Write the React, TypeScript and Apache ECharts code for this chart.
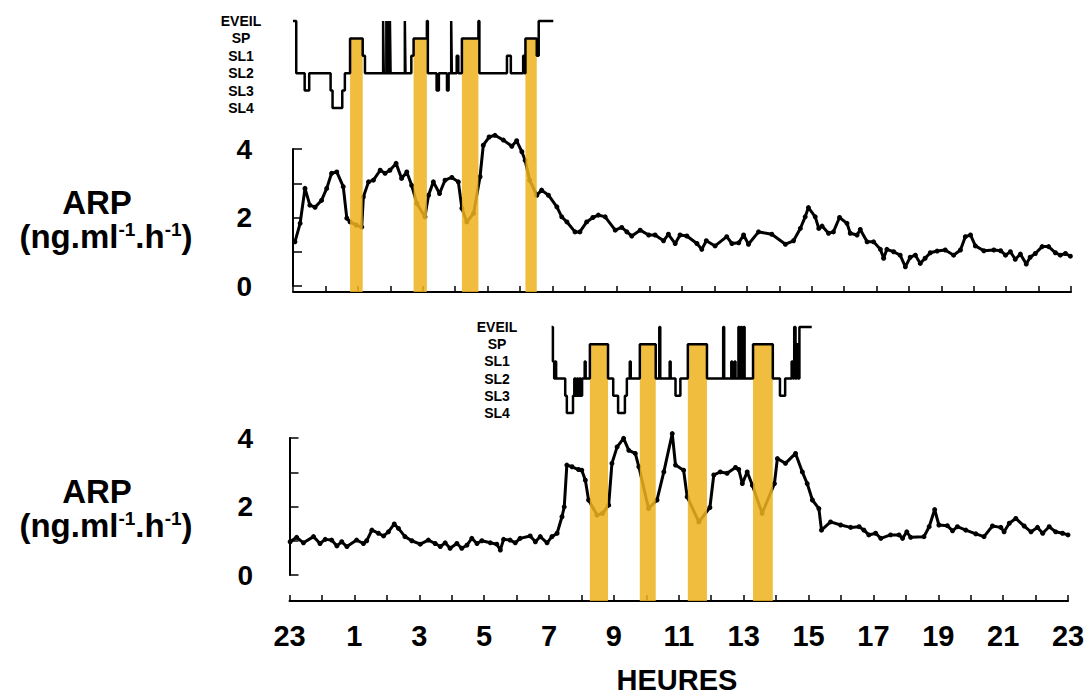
import React, { useEffect, useRef } from "react";
import * as echarts from "echarts";

const stageNames = ["EVEIL", "SP", "SL1", "SL2", "SL3", "SL4"];

const topHours = [0.06, 0.22, 0.37, 0.52, 0.68, 0.88, 1.04, 1.19, 1.35, 1.55, 1.66, 1.76, 1.95, 2.12, 2.17, 2.33, 2.48, 2.69, 2.84, 2.99, 3.18, 3.35, 3.51, 3.66, 3.82, 4.07, 4.18, 4.33, 4.52, 4.69, 4.9, 5.1, 5.21, 5.36, 5.57, 5.77, 5.87, 6.05, 6.23, 6.49, 6.75, 6.9, 7.06, 7.16, 7.3, 7.52, 7.67, 7.88, 8.14, 8.29, 8.45, 8.7, 8.85, 9.06, 9.25, 9.42, 9.63, 9.94, 10.14, 10.3, 10.45, 10.71, 10.97, 11.17, 11.43, 11.58, 11.79, 11.94, 12.15, 12.46, 12.61, 12.75, 13.02, 13.38, 13.54, 13.75, 13.9, 14.05, 14.36, 14.77, 15.19, 15.44, 15.65, 15.8, 15.9, 16.11, 16.22, 16.32, 16.52, 16.67, 16.86, 17.09, 17.19, 17.4, 17.5, 17.71, 17.91, 18.12, 18.22, 18.32, 18.53, 18.73, 18.89, 19.04, 19.2, 19.35, 19.5, 19.66, 19.87, 20.12, 20.38, 20.59, 20.74, 20.9, 21.05, 21.31, 21.62, 21.83, 21.98, 22.13, 22.28, 22.44, 22.62, 22.74, 22.9, 23.11, 23.31, 23.52, 23.67, 23.83, 23.98];
const topArp = [1.29, 1.83, 2.85, 2.36, 2.3, 2.5, 2.85, 3.29, 3.33, 2.9, 1.98, 1.87, 1.78, 1.72, 2.6, 3.04, 3.09, 3.38, 3.29, 3.38, 3.58, 3.14, 3.33, 2.94, 2.41, 2.02, 2.65, 3.04, 2.7, 3.09, 3.17, 3.04, 2.27, 1.87, 2.12, 3.19, 4.11, 4.35, 4.4, 4.26, 4.08, 4.24, 3.92, 3.67, 3.09, 2.65, 2.8, 2.65, 2.31, 2.02, 1.87, 1.58, 1.58, 1.87, 2.0, 2.07, 2.02, 1.63, 1.71, 1.58, 1.46, 1.63, 1.49, 1.49, 1.32, 1.51, 1.24, 1.49, 1.46, 1.24, 1.07, 1.32, 1.17, 1.44, 1.24, 1.26, 1.49, 1.22, 1.58, 1.51, 1.22, 1.32, 1.68, 2.02, 2.29, 2.02, 1.68, 1.75, 1.54, 1.58, 2.0, 1.83, 1.54, 1.49, 1.65, 1.29, 1.29, 1.07, 0.81, 1.07, 1.0, 0.9, 0.56, 0.84, 0.9, 0.66, 0.81, 0.97, 1.02, 1.05, 0.9, 1.05, 1.44, 1.49, 1.17, 1.03, 1.05, 1.03, 0.9, 1.0, 0.78, 0.93, 0.64, 0.84, 0.95, 1.15, 1.15, 0.97, 0.9, 0.95, 0.87];

const bottomHours = [0.02, 0.22, 0.43, 0.74, 0.94, 1.1, 1.3, 1.46, 1.61, 1.77, 2.07, 2.28, 2.38, 2.54, 2.74, 2.9, 3.05, 3.23, 3.36, 3.56, 3.77, 4.03, 4.28, 4.49, 4.65, 4.8, 4.95, 5.16, 5.31, 5.47, 5.62, 5.78, 5.93, 6.19, 6.39, 6.5, 6.6, 6.8, 6.96, 7.11, 7.42, 7.58, 7.73, 7.94, 8.09, 8.25, 8.4, 8.47, 8.55, 8.71, 8.91, 9.01, 9.12, 9.22, 9.48, 9.65, 9.84, 9.94, 10.1, 10.3, 10.46, 10.66, 10.77, 11.07, 11.33, 11.54, 11.8, 11.9, 12.15, 12.26, 12.62, 12.96, 13.08, 13.28, 13.49, 13.75, 13.85, 13.96, 14.11, 14.27, 14.57, 14.95, 15.04, 15.29, 15.6, 15.81, 15.96, 16.12, 16.32, 16.4, 16.68, 16.99, 17.3, 17.56, 17.71, 17.86, 18.07, 18.23, 18.53, 18.79, 18.9, 19.03, 19.15, 19.56, 19.72, 19.89, 20.02, 20.28, 20.44, 20.59, 20.85, 21.16, 21.41, 21.67, 21.93, 22.03, 22.19, 22.39, 22.65, 22.86, 23.06, 23.22, 23.42, 23.62, 23.83, 24.0];
const bottomArp = [0.97, 1.1, 0.94, 1.12, 0.92, 1.04, 1.02, 0.85, 0.97, 0.83, 1.02, 0.92, 1.0, 1.31, 1.22, 1.14, 1.26, 1.49, 1.36, 1.12, 1.0, 0.9, 1.02, 0.92, 0.83, 0.94, 0.78, 0.92, 0.78, 0.87, 1.07, 0.92, 1.0, 0.94, 0.9, 0.73, 1.04, 1.02, 0.94, 1.07, 1.14, 0.97, 1.12, 0.94, 1.12, 1.22, 1.7, 1.99, 3.21, 3.16, 3.08, 3.06, 2.77, 2.19, 1.75, 1.8, 2.04, 3.26, 3.74, 3.99, 3.64, 3.55, 3.16, 1.94, 2.19, 3.01, 4.13, 3.21, 3.06, 2.28, 1.55, 1.97, 2.92, 3.01, 2.97, 3.14, 3.08, 2.67, 3.01, 2.62, 1.8, 2.67, 3.4, 3.26, 3.55, 3.01, 2.67, 2.19, 1.94, 1.31, 1.55, 1.46, 1.39, 1.41, 1.31, 1.17, 1.22, 1.07, 1.17, 1.17, 1.07, 1.26, 1.1, 1.12, 1.41, 1.91, 1.46, 1.44, 1.29, 1.41, 1.31, 1.2, 1.12, 1.43, 1.39, 1.26, 1.51, 1.65, 1.43, 1.26, 1.39, 1.22, 1.41, 1.26, 1.22, 1.17];

const hypTopHours = [0, 0.1, 0.36, 0.5, 1.16, 1.22, 1.52, 1.6, 1.76, 2.15, 2.22, 2.78, 2.8, 2.88, 2.9, 2.93, 2.95, 2.99, 3.01, 3.45, 3.47, 3.65, 3.72, 4.13, 4.16, 4.43, 4.5, 4.75, 4.8, 4.88, 4.9, 5.05, 5.1, 5.21, 5.72, 5.75, 6.6, 6.72, 7.1, 7.14, 7.17, 7.52, 7.58, 8.03];
const hypTopStages = [0, 3, 4, 3, 4, 5, 4, 3, 1, 2, 3, 0, 3, 0, 3, 0, 3, 0, 3, 0, 3, 2, 1, 0, 3, 4, 3, 4, 3, 0, 3, 2, 3, 1, 0, 3, 2, 3, 2, 3, 1, 2, 0, 0];

const hypBottomHours = [8.08, 8.12, 8.16, 8.19, 8.22, 8.5, 8.55, 8.74, 8.78, 8.82, 8.86, 8.9, 8.94, 8.98, 9.02, 9.1, 9.13, 9.26, 9.82, 9.98, 10.13, 10.34, 10.4, 10.49, 10.52, 10.8, 11.29, 11.4, 11.43, 11.72, 11.75, 11.9, 12.05, 12.28, 12.87, 13.37, 13.4, 13.62, 13.65, 13.72, 13.75, 13.84, 13.87, 13.92, 13.95, 14.0, 14.03, 14.29, 14.9, 15.12, 15.28, 15.48, 15.52, 15.56, 15.6, 15.64, 15.68, 15.72, 16.1];
const hypBottomStages = [0, 2, 3, 2, 3, 4, 5, 4, 3, 4, 3, 4, 3, 4, 3, 2, 3, 1, 3, 4, 5, 4, 3, 2, 3, 1, 3, 0, 3, 2, 3, 4, 3, 1, 3, 0, 3, 2, 3, 2, 3, 0, 3, 0, 3, 0, 3, 1, 3, 4, 3, 2, 3, 0, 3, 1, 3, 0, 0];

const topBarStart = [1.76, 3.72, 5.21, 7.17];
const topBarEnd = [2.15, 4.13, 5.72, 7.52];
const bottomBarStart = [9.26, 10.8, 12.28, 14.29];
const bottomBarEnd = [9.82, 11.29, 12.87, 14.9];

const BOLD = "'Liberation Sans', Arial, sans-serif";
const BAR_FILL = "rgba(238,178,32,0.86)";

function zip(a: number[], b: number[]) {
  return a.map((v, i) => [v, b[i]]);
}

function hourLabel(v: number) {
  return v % 2 === 0 ? String((23 + v) % 24) : "";
}

function barRender(params: any, api: any) {
  const p0 = api.coord([api.value(0), 1]);
  const p1 = api.coord([api.value(1), 0]);
  return {
    type: "rect",
    shape: { x: p0[0], y: p0[1], width: p1[0] - p0[0], height: p1[1] - p0[1] },
    style: { fill: BAR_FILL },
  };
}

export default function App() {
  const ref = useRef<HTMLDivElement>(null);
  useEffect(() => {
    if (!ref.current) return;
    const chart = echarts.init(ref.current, null, { renderer: "svg" });
    const H = 697;
    const xHidden = (gi: number) => ({
      type: "value", gridIndex: gi, min: 0, max: 24, show: false,
    });
    const arpX = (gi: number, offset: number, labels: boolean) => ({
      type: "value", gridIndex: gi, min: 0, max: 24, interval: 1, offset,
      axisLine: { show: true, onZero: false, lineStyle: { color: "#000", width: 2 } },
      axisTick: { show: true, inside: true, length: 6, lineStyle: { color: "#000", width: 1.5 } },
      axisLabel: labels
        ? { show: true, formatter: hourLabel, fontSize: 29, fontWeight: "bold", fontFamily: BOLD, color: "#000", margin: 20, showMinLabel: true, showMaxLabel: true }
        : { show: false },
      splitLine: { show: false },
    });
    const arpY = (gi: number, offset: number, margin: number) => ({
      type: "value", gridIndex: gi, min: 0, max: 4, interval: 1, offset,
      axisLine: { show: true, lineStyle: { color: "#000", width: 2 } },
      axisTick: { show: true, inside: true, length: 9, lineStyle: { color: "#000", width: 1.5 } },
      axisLabel: { formatter: (v: number) => (v % 2 === 0 ? String(v) : ""), fontSize: 28, fontWeight: "bold", fontFamily: BOLD, color: "#000", margin },
      splitLine: { show: false },
    });
    const hypY = (gi: number, offset: number, margin: number) => ({
      type: "value", gridIndex: gi, min: 0, max: 5, interval: 1, inverse: true, offset,
      axisLine: { show: false }, axisTick: { show: false }, splitLine: { show: false },
      axisLabel: { formatter: (v: number) => stageNames[v] ?? "", align: "center", margin, fontSize: 14, fontWeight: "bold", fontFamily: BOLD, color: "#000" },
    });
    const barY = (gi: number) => ({ type: "value", gridIndex: gi, min: 0, max: 1, show: false });
    const arpLine = (xi: number, data: number[][]) => ({
      type: "line", xAxisIndex: xi, yAxisIndex: xi, data, clip: false, z: 2,
      symbol: "circle", symbolSize: 5, showSymbol: true, showAllSymbol: true,
      itemStyle: { color: "#000" }, lineStyle: { color: "#000", width: 3 },
    });
    const hypLine = (xi: number, data: number[][]) => ({
      type: "line", xAxisIndex: xi, yAxisIndex: xi, data, step: "end", clip: false, z: 5,
      showSymbol: false, lineStyle: { color: "#000", width: 2.5 },
    });
    const bars = (xi: number, s: number[], e: number[]) => ({
      type: "custom", xAxisIndex: xi, yAxisIndex: xi, data: zip(s, e), renderItem: barRender, clip: false, z: 4,
      encode: { x: [0, 1] },
    });
    const unitText = (x: number, y: number) => ({
      type: "text", x, y,
      style: {
        text: "(ng.ml{s|-1}.h{s|-1})", font: `bold 33px ${BOLD}`, fill: "#000", align: "center", verticalAlign: "middle",
        rich: { s: { fontSize: 19, fontWeight: "bold", fontFamily: BOLD, fill: "#000", verticalAlign: "top", padding: [0, 0, 14, 0] } },
      },
    });
    const arpText = (x: number, y: number) => ({
      type: "text", x, y,
      style: { text: "ARP", font: `bold 33px ${BOLD}`, fill: "#000", align: "center", verticalAlign: "middle" },
    });
    chart.setOption({
      animation: false,
      grid: [
        { left: 293, right: 19, top: 149, bottom: H - 286 },
        { left: 293, right: 19, top: 21, bottom: H - 108 },
        { left: 293, right: 19, top: 39, bottom: H - 292 },
        { left: 289.5, right: 22, top: 438, bottom: H - 575 },
        { left: 289.5, right: 22, top: 327, bottom: H - 413 },
        { left: 289.5, right: 22, top: 344, bottom: H - 601 },
      ],
      xAxis: [
        arpX(0, 6, false), xHidden(1), xHidden(2),
        arpX(3, 26, true), xHidden(4), xHidden(5),
      ],
      yAxis: [
        arpY(0, 24, 17), hypY(1, 0, 52), barY(2),
        arpY(3, 17.5, 19), hypY(4, -262.5, 55), barY(5),
      ],
      series: [
        arpLine(0, zip(topHours, topArp)),
        hypLine(1, zip(hypTopHours, hypTopStages)),
        bars(2, topBarStart, topBarEnd),
        arpLine(3, zip(bottomHours, bottomArp)),
        hypLine(4, zip(hypBottomHours, hypBottomStages)),
        bars(5, bottomBarStart, bottomBarEnd),
      ],
      graphic: [
        arpText(97, 202),
        unitText(106, 236),
        arpText(97, 491),
        unitText(106, 525),
        { type: "text", x: 677, y: 680, style: { text: "HEURES", font: `bold 29px ${BOLD}`, fill: "#000", align: "center", verticalAlign: "middle" } },
      ],
    });
    return () => chart.dispose();
  }, []);
  return <div ref={ref} style={{ position: "absolute", left: 0, top: 0, width: 1090, height: 697, background: "#fff" }} />;
}
